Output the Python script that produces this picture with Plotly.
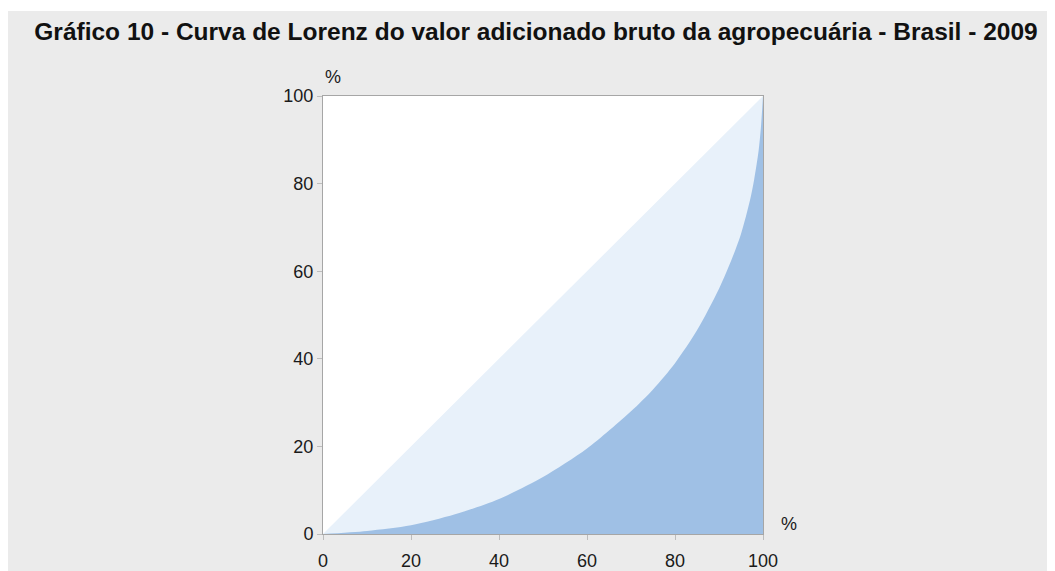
import plotly.graph_objects as go

# Lorenz curve (cumulative % of municipalities vs cumulative % of value added)
pop_share = [0, 10, 20, 30, 40, 50, 60, 70, 75, 80, 85, 90, 93, 95, 97, 98, 99, 99.5, 100]
value_share = [0, 0.7, 2.0, 4.5, 8.0, 13.0, 19.5, 28.0, 33.0, 39.0, 46.5, 56.0, 63.0, 68.5, 76.0, 81.0, 87.5, 92.5, 100]
equality_x = [0, 100]
equality_y = [0, 100]
tick_vals = [0, 20, 40, 60, 80, 100]

title_text = "Gráfico 10 - Curva de Lorenz do valor adicionado bruto da agropecuária - Brasil - 2009"

OFF = 8  # page body margin
W, H = 1055 - OFF, 571 - OFF
L, R, T, B = 323 - OFF, 763 - OFF, 96 - OFF, 534 - OFF
pw, ph = R - L, B - T

FONT = "Liberation Sans, Arial, sans-serif"

fig = go.Figure()
fig.add_trace(go.Scatter(x=equality_x, y=equality_y, mode="lines", fill="tozeroy",
                         fillcolor="#e8f1fa", line=dict(width=0, color="#e8f1fa"),
                         hoverinfo="skip", showlegend=False))
fig.add_trace(go.Scatter(x=pop_share, y=value_share, mode="lines", fill="tozeroy",
                         fillcolor="#9fc0e5", line=dict(width=0, color="#9fc0e5", shape="spline", smoothing=0.8),
                         showlegend=False))

axis_common = dict(range=[0, 100], tickvals=tick_vals, showgrid=False, zeroline=False,
                   showline=True, linecolor="#a6a6a6", linewidth=1, mirror=True,
                   ticks="outside", ticklen=5, tickcolor="#bdbdbd",
                   tickfont=dict(family=FONT, size=18, color="#1a1a1a"),
                   automargin=False, fixedrange=True)

fig.update_xaxes(**axis_common, ticklabelstandoff=5)
fig.update_yaxes(**axis_common)

def px_x(p):
    return (p - OFF - L) / pw

def px_y(p):
    return (B - (p - OFF)) / ph

fig.update_layout(
    width=W, height=H,
    margin=dict(l=L, r=W - R, t=T, b=H - B, pad=0, autoexpand=False),
    paper_bgcolor="#ebebeb", plot_bgcolor="white",
    title=dict(text="<b>" + title_text + "</b>", x=(536 - OFF) / W, xanchor="center",
               y=1 - (31 - OFF) / H, yanchor="middle", yref="container",
               font=dict(family=FONT, size=24.5, color="#111111")),
    shapes=[
        dict(type="rect", xref="paper", yref="paper", x0=-2, x1=3, y0=px_y(11), y1=2,
             fillcolor="white", line=dict(width=0), layer="above"),
    ],
    annotations=[
        dict(text="%", xref="paper", yref="paper", x=px_x(333), y=px_y(77), showarrow=False,
             xanchor="center", yanchor="middle",
             font=dict(family=FONT, size=18, color="#1a1a1a")),
        dict(text="%", xref="paper", yref="paper", x=px_x(789), y=px_y(524), showarrow=False,
             xanchor="center", yanchor="middle",
             font=dict(family=FONT, size=18, color="#1a1a1a")),
    ],
)

fig.write_html("out.html")
